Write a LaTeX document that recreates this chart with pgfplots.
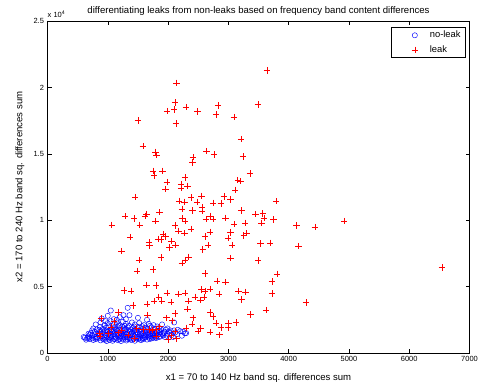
\documentclass[border=0pt]{standalone}
\usepackage{fontspec}
\setmainfont{Liberation Sans}
\usepackage{pgfplots}
\pgfplotsset{compat=1.18}
\definecolor{mblue}{RGB}{0,0,255}
\definecolor{mred}{RGB}{255,0,0}
\begin{document}
\begin{tikzpicture}
\begin{axis}[
 scale only axis, width=422bp, height=332bp,
 xmin=0,xmax=7000,ymin=0,ymax=25000,
 xtick={0,1000,...,7000},
 ytick={0,5000,10000,15000,20000,25000},
 yticklabels={0,0.5,1,1.5,2,2.5},
 scaled x ticks=false, scaled y ticks=false,
 /pgf/number format/.cd, fixed, 1000 sep={}, assume math mode=true, /pgfplots/.cd,
 tick align=inside, major tick length=4bp,
 tick style={black, line width=0.5pt},
 axis line style={black, line width=0.5pt},
 tick label style={font=\fontsize{7.5}{9}\selectfont},
 xlabel={x1 = 70 to 140 Hz band sq. differences sum},
 ylabel={x2 = 170 to 240 Hz band sq. differences sum},
 every axis x label/.style={at={(axis description cs:0.5,0)}, anchor=center, yshift=-25bp, font=\fontsize{9.6}{11}\selectfont},
 every axis y label/.style={at={(axis description cs:0,0.5)}, rotate=90, anchor=center, yshift=27.5bp, font=\fontsize{9.6}{11}\selectfont},
 title={differentiating leaks from non-leaks based on frequency band content differences},
 every axis title/.style={at={(axis description cs:0.5,1)}, anchor=center, yshift=10bp, font=\fontsize{9.6}{11}\selectfont},
 legend style={at={(1,1)}, anchor=north east, xshift=-4.5bp, yshift=-6.3bp, font=\fontsize{9.4}{11}\selectfont, draw=black, line width=0.5pt, inner xsep=0pt, inner ysep=0.5bp, row sep=0pt, column sep=0pt, nodes={inner sep=0pt}},
 legend image code/.code={\path[draw=none,fill=none] (-23.3bp,-7.25bp) rectangle (15bp,7.25bp); \draw[#1] plot coordinates {(0bp,0bp)};},
 legend cell align=left,
 clip=false,
]
\addplot[only marks, mark=o, mark size=2.6bp, mblue, mark options={line width=0.45pt}] coordinates {
(700,1050)(760,980)(820,1100)(880,950)(930,1020)(980,900)(1030,980)(1080,920)(1120,1050)(1170,960)
(1220,900)(1260,1010)(1310,940)(1360,1080)(1400,990)(1450,920)(1500,1040)(1550,970)(1600,1100)(1650,1010)
(1700,1060)(1750,1150)(1800,1120)(1850,1200)
(620,1150)(680,1250)(740,1320)(790,1200)(850,1380)(900,1260)(950,1350)(990,1180)(1040,1300)(1090,1400)
(1130,1220)(1180,1350)(1230,1260)(1270,1400)(1320,1200)(1370,1330)(1410,1250)(1460,1380)(1510,1210)(1560,1320)
(1610,1240)(1660,1380)(1710,1290)(1760,1360)(1810,1280)(1860,1400)(1920,1330)(1980,1300)(2060,1350)(2150,1420)(2280,1480)
(720,1500)(780,1600)(830,1480)(880,1650)(930,1550)(980,1700)(1020,1480)(1070,1620)(1120,1530)(1160,1680)
(1210,1500)(1250,1620)(1300,1560)(1340,1700)(1390,1480)(1430,1640)(1480,1560)(1520,1690)(1570,1500)(1620,1620)
(1670,1550)(1720,1680)(1770,1520)(1820,1640)(1870,1560)(1940,1600)(2010,1620)(2100,1700)(2200,1650)
(760,1850)(820,1780)(870,1950)(920,1820)(970,1900)(1010,2000)(1060,1800)(1110,1920)(1150,1760)(1200,1880)
(1240,1990)(1290,1820)(1330,1940)(1380,1780)(1420,1900)(1470,1820)(1510,1960)(1560,1790)(1610,1900)(1660,1830)
(1720,1950)(1780,1810)(1850,1880)(1960,1760)(2160,1750)
(800,2150)(880,2300)(950,2100)(1000,2250)(1050,2400)(1100,2150)(1150,2300)(1200,2100)(1250,2350)(1300,2200)
(1350,2050)(1400,2300)(1450,2150)(1520,2250)(1600,2100)(1680,2200)(1760,2100)(1900,2150)(2100,2300)
(1330,3400)(1050,3200)(1360,2850)(1200,2700)(900,2600)(1500,2650)(1100,2550)(1650,2500)
(950,1150)(1010,1420)(1060,1100)(1110,1300)(1160,1450)(1210,1150)(1260,1300)(1310,1450)(1360,1150)(1420,1420)
(1470,1100)(1530,1420)(1580,1150)(1630,1450)(1690,1150)(1740,1450)(1790,1180)(1000,1600)(1050,1700)(1100,1760)
(1190,1580)(1280,1740)(1370,1600)(1450,1740)(1550,1600)(1650,1700)(1740,1580)(1850,1700)(1900,1450)(1950,1200)
(2030,1500)(2080,1200)(2230,1300)(2300,1500)(870,1400)(820,1200)(780,1400)(700,1380)(660,1100)(600,1200)
(640,1000)(690,1150)(750,1100)(800,1050)(860,1150)(910,1100)(960,1000)(1010,1080)(1050,1200)(1100,1050)
(1140,1130)(1190,1040)(1240,1100)(1280,1180)(1330,1050)(1380,1000)(1430,1080)(1480,1200)(1530,1100)(1580,1030)
(1620,1180)(1680,1250)(1730,1100)(1780,1300)(1830,1400)(1880,1250)(1930,1500)(1990,1450)(2040,1700)(2120,1550)
(2250,1600)(900,1450)(950,1650)(1040,1550)(1140,1400)(1230,1450)(1330,1350)(1400,1550)(1500,1450)(1600,1350)
(1700,1450)(1800,1500)(1880,1800)(1990,1850)(860,1750)(740,1700)(680,1450)(1080,2000)(1180,2050)(1280,2050)
(1440,2000)(1570,2020)(1700,2050)(1820,2000)(960,2400)(1150,2500)(1300,2550)(1260,2850)(1000,2800)
};
\addlegendentry{no-leak\hspace*{4.2bp}}
\addplot[only marks, mark=+, mark size=3.2bp, mred, mark options={line width=0.5pt}] coordinates {
(2140,20350)(2115,18850)(1985,18220)(2100,18350)(2295,18520)(2485,18170)(1500,17500)(2130,17290)(1580,15590)(1790,15140)
(1805,14890)(2410,14740)(2405,14340)(3640,21260)(3490,18720)(2830,18650)(2795,17970)(3090,17770)(3210,16110)(2640,15210)
(2765,14940)(3245,14810)(1750,13710)(1910,13710)(1770,13380)(2280,13210)(1980,12880)(2215,12710)(2325,12580)(2215,12430)
(1955,12330)(1455,11750)(2385,11710)(2555,11830)(2185,11450)(2270,11380)(2480,11380)(2565,10960)(2230,10850)(2405,10730)
(1855,10600)(1645,10470)(1615,10320)(1285,10300)(1435,10130)(2230,10130)(2280,9925)(1790,9925)(1530,9650)(1065,9650)
(2115,9600)(2380,9345)(2170,9195)(2270,9020)(1920,8950)(1960,8775)(1370,8720)(1835,8595)(1880,8550)(2055,8420)
(1680,8325)(2120,8120)(1690,8100)(2025,7950)(1225,7670)(2575,7800)(3355,13510)(3155,13010)(3205,12930)(3115,12280)
(2925,11780)(3035,11560)(2750,11300)(2875,11255)(3790,11430)(2565,10680)(3220,10730)(3450,10450)(3570,10505)(2695,10320)
(3590,10175)(2625,10075)(2750,10075)(2950,10175)(3750,10055)(3550,9800)(3280,9800)(3095,9700)(4130,9600)(2695,9120)
(3035,9075)(3305,9020)(3255,8850)(2615,8775)(2995,8670)(3530,8250)(3690,8295)(2665,8120)(3065,8120)(4165,8045)
(4435,9475)(4920,9925)(3495,6970)(3810,5960)(3720,5390)(3720,4490)(4285,3810)(3625,3235)(3370,2910)(6540,6445)
(1885,7195)(2340,7240)(2280,6990)(2230,6790)(1520,6990)(1750,6295)(1485,6190)(1645,5135)(1800,5090)(1265,4715)
(1385,4685)(1980,4535)(2280,4535)(2170,4460)(2555,4790)(1845,4235)(2445,4235)(1770,3910)(1895,3930)(2045,3835)
(2340,3910)(1655,3685)(1420,3585)(2540,3985)(2325,3310)(2115,2985)(1660,2855)(2410,2655)(1180,3060)(1975,2655)
(2070,2430)(885,2610)(1105,2385)(2400,2180)(2540,1855)(2295,1900)(1855,1980)(1685,1780)(1595,1780)(1730,1730)
(1810,1780)(1480,1855)(1230,1730)(1050,1930)(1175,1525)(1340,1355)(1440,1105)(875,1280)(2115,1675)(2050,1300)
(1995,1030)(2140,1075)(2500,1655)(1805,1280)(860,1480)(1010,1480)
(3035,7145)(2615,5995)(2815,5435)(2950,5340)(2610,4660)(2700,4835)(2595,4235)(2845,4460)(3170,4660)(3285,4610)
(3220,4040)(2700,3060)(2750,2760)(2795,2255)(3125,2310)(3005,2235)(2875,1930)(2995,1930)(2695,1580)(2855,1375)
};
\addlegendentry{leak}
\node[anchor=south west, inner sep=0pt, font=\fontsize{7.5}{9}\selectfont] at (rel axis cs:0,1) [yshift=3bp] {x 10\textsuperscript{4}};
\end{axis}
\pgfresetboundingbox
\path ([shift={(-47.5bp,-30bp)}]current axis.south west) rectangle ([shift={(13.5bp,21bp)}]current axis.north east);
\end{tikzpicture}
\end{document}
